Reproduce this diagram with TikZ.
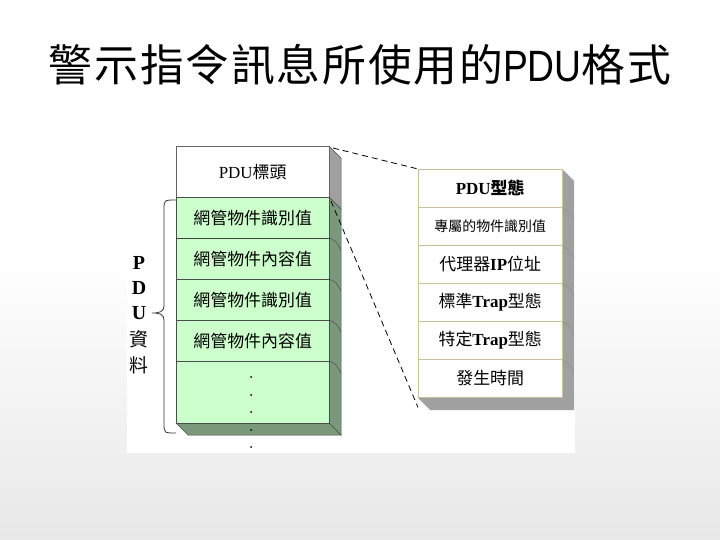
\documentclass[tikz,border=0pt]{standalone}
\usepackage{fontspec}
\setmainfont{Liberation Serif}
\newfontfamily\cjk{Noto Sans CJK TC}
\newfontfamily\cjktitle[LetterSpace=4]{Noto Sans CJK TC}
\newfontfamily\lattitle{Liberation Sans}
\definecolor{bggray}{RGB}{232,232,232}
\definecolor{rowgreen}{RGB}{204,255,204}
\definecolor{sidegreen}{RGB}{122,153,122}
\definecolor{sidegray}{RGB}{160,160,160}
\definecolor{tan}{RGB}{205,190,160}
\definecolor{shadowgray}{RGB}{160,160,160}
\tikzset{
  lrow/.style={draw=black!70, fill=rowgreen, minimum width=153bp, minimum height=41bp, anchor=north west, inner sep=0pt, font=\fontsize{17}{20}\selectfont\cjk},
  rrow/.style={draw=tan, fill=white, minimum width=144bp, minimum height=38bp, anchor=north west, inner sep=0pt, font=\fontsize{17}{20}\selectfont},
  conn/.style={draw=black, dash pattern=on 6bp off 4bp, line width=0.8bp},
  side/.style={draw=black!70, line width=0.5bp},
  lbl/.style={font=\fontsize{20}{22}\selectfont\bfseries, inner sep=0pt}
}
\begin{document}
\begin{tikzpicture}[x=1bp,y=-1bp]
\useasboundingbox (0,0) rectangle (720,540);
\shade[top color=white, bottom color=bggray, middle color=white!95!bggray] (0,0) rectangle (720,540);
% picture area
\fill[white] (127,143) rectangle (575,453);
% title
\node (title) at (360,65) {\fontsize{44}{50}\selectfont\cjktitle 警示指令訊息所使用的\lattitle\scalebox{0.85}[1]{PDU}\cjktitle 格式};

% left stack side and bottom faces
\fill[sidegray, draw=black!70, line width=0.5bp] (329,146) -- (341,158) -- (341,209) -- (329,197) -- cycle;
\fill[sidegreen, draw=black!70, line width=0.5bp] (329,197) -- (341,209) -- (341,435) -- (329,423) -- cycle;
\fill[sidegreen, draw=black!70, line width=0.5bp] (176,423) -- (329,423) -- (341,435) -- (188,435) -- cycle;
\foreach \yy in {238,279,320,361} {\draw[side] (329,\yy) .. controls (336,\yy+3) .. (341,\yy+12);}

% left stack rows
\node[lrow, draw=black!60, fill=white, minimum height=51bp] (hdr) at (176,146) {{\rmfamily PDU}標頭};
\node[lrow] (l1) at (176,197) {網管物件識別值};
\node[lrow] (l2) at (176,238) {網管物件內容值};
\node[lrow] (l3) at (176,279) {網管物件識別值};
\node[lrow] (l4) at (176,320) {網管物件內容值};
\node[lrow, minimum height=62bp] (l5) at (176,361) {};
\draw[black!75, line width=1.2bp] (l1.south west) -- (l1.south east);
\foreach \yy [count=\i] in {377,395,412,430,447} {\fill (251,\yy) circle (1bp) coordinate (dot\i);}

% brace
\draw[black!80, line width=0.8bp] (176,200) .. controls (164,200) .. (164,210) -- (164,305)
   .. controls (164,312) and (160,313) .. (152,313)
   .. controls (160,313) and (164,314) .. (164,321) -- (164,423)
   .. controls (164,433) .. (176,433);
\node[lbl] (lp) at (139,263) {P};
\node[lbl] (ld) at (139,288) {D};
\node[lbl] (lu) at (139,313) {U};
\node[lbl, font=\fontsize{19}{22}\selectfont\cjk] (lz) at (139,339) {資};
\node[lbl, font=\fontsize{19}{22}\selectfont\cjk] (ll) at (139,365) {料};

% right stack shadow
\fill[shadowgray] (562,169) -- (574,181) -- (574,410) -- (430,410) -- (418,398) -- (562,398) -- cycle;
\foreach \yy in {208,246,284,322,360} {\draw[black!45, line width=0.4bp] (562,\yy) .. controls (569,\yy+3) .. (574,\yy+12);}

% right stack rows
\node[rrow] (r1) at (418,169) {\textbf{PDU}{\cjk\bfseries 型態}};
\node[rrow, font=\fontsize{14}{16}\selectfont\cjk] (r2) at (418,207) {專屬的物件識別值};
\node[rrow] (r3) at (418,245) {{\cjk 代理器}\textbf{IP}{\cjk 位址}};
\node[rrow] (r4) at (418,283) {{\cjk 標準}\textbf{Trap}{\cjk 型態}};
\node[rrow] (r5) at (418,321) {{\cjk 特定}\textbf{Trap}{\cjk 型態}};
\node[rrow] (r6) at (418,359) {\cjk 發生時間};

% connectors
\coordinate (a1) at (333,148);
\coordinate (a2) at (331,201);
\draw[conn] (a1) -- (r1.north west);
\draw[conn] (a2) -- ([yshift=-10bp]r6.south west);
\end{tikzpicture}
\end{document}
